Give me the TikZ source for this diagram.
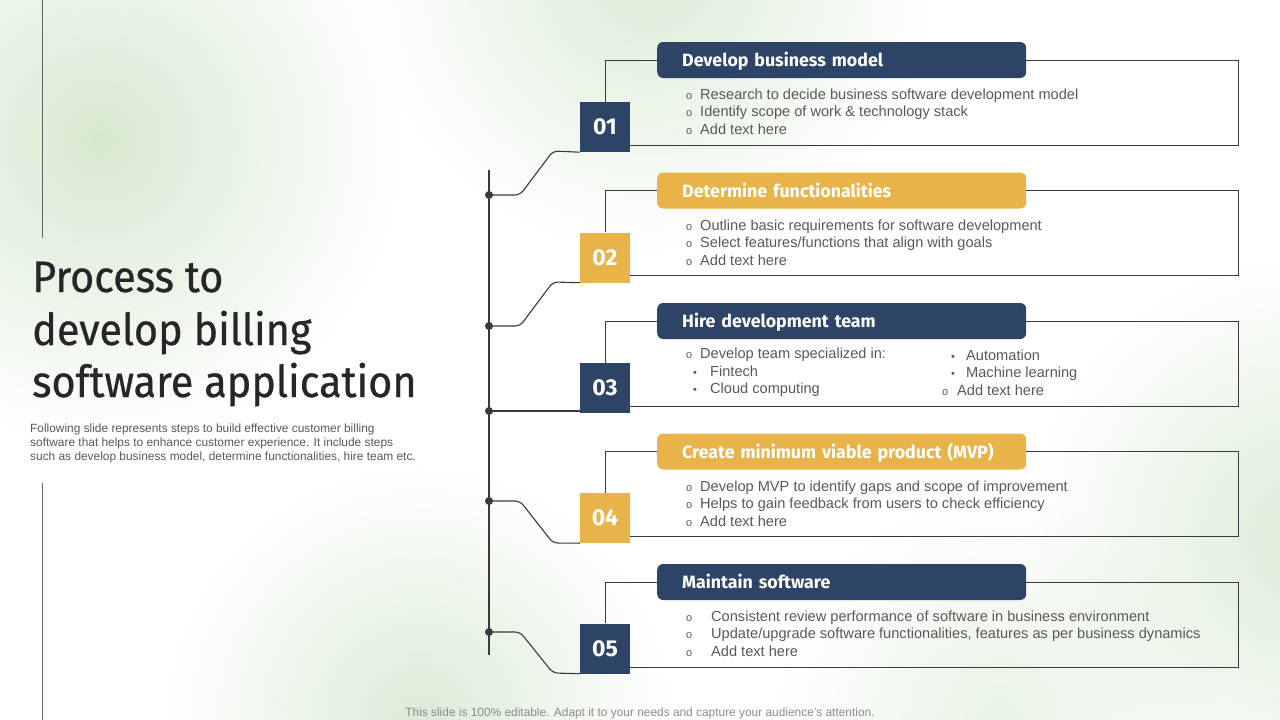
\documentclass[tikz,border=0pt]{standalone}
\usepackage{fontspec}
\setmainfont{Liberation Sans}
\newfontfamily\titlefont[FakeStretch=0.94,FakeBold=0.6]{Fira Sans}
\newfontfamily\headfont{Fira Sans}
\usetikzlibrary{fadings}
\definecolor{navy}{HTML}{2E4466}
\definecolor{gold}{HTML}{E8B44A}
\definecolor{txt}{HTML}{595959}
\definecolor{lineC}{HTML}{3A3A3A}
\definecolor{glow}{HTML}{D3E7CC}
\tikzfading[name=softglow, inner color=transparent!0, outer color=transparent!100]
\newcommand\obul[1][14pt]{\makebox[#1][l]{\fontsize{11}{11}\selectfont o}}
\newcommand\dbul[1][15pt]{\makebox[#1][l]{\fontsize{11}{11}\selectfont\textbullet}}
\begin{document}
\begin{tikzpicture}[x=1pt,y=-1pt,
  hdr/.style={anchor=west, rounded corners=6pt, minimum width=369pt, minimum height=36pt,
    inner xsep=25pt, text width=319pt, align=left, text=white, text height=13pt, text depth=0pt,
    font=\headfont\bfseries\fontsize{17.8}{19}\selectfont},
  numbox/.style={minimum width=50pt, minimum height=50pt, inner sep=0pt, text=white,
    font=\headfont\bfseries\fontsize{23}{24}\selectfont},
  frame/.style={draw=lineC, line width=1pt},
  conn/.style={draw=lineC, line width=1.1pt, rounded corners=5pt},
  dot/.style={circle, fill=lineC, minimum size=8pt, inner sep=0pt},
  body/.style={anchor=west, align=left, inner sep=0pt, text=txt,
    font=\fontsize{14.6}{17.5}\selectfont},
  ttl/.style={anchor=base west, inner sep=0pt, text=black!85,
    font=\titlefont\fontsize{44}{52}\selectfont},
  desc/.style={anchor=base west, inner sep=0pt, text=txt,
    font=\fontsize{11.9}{14}\selectfont},
]
\useasboundingbox (0,0) rectangle (1280,720);
\begin{scope}
\clip (0,0) rectangle (1280,720);
\fill[white] (0,0) rectangle (1280,720);
\fill[glow, fill opacity=0.9, path fading=softglow] (100,140) circle (300pt);
\fill[glow, fill opacity=0.8, path fading=softglow] (650,-30) circle (280pt);
\fill[glow, fill opacity=0.8, path fading=softglow] (420,720) circle (250pt);
\fill[glow, fill opacity=0.8, path fading=softglow] (1310,540) circle (280pt);
\fill[glow, fill opacity=0.5, path fading=softglow] (1000,720) circle (220pt);
\end{scope}

% left decorative line
\coordinate (la) at (42,0); \coordinate (lb) at (42,238);
\coordinate (lc) at (42,483); \coordinate (ld) at (42,720);
\draw[draw=black!60, line width=0.8pt] (la) -- (lb);
\draw[draw=black!60, line width=0.8pt] (lc) -- (ld);

% title
\node[ttl] (tl1) at (32,292) {Process to};
\node[ttl] (tl2) at (32,345) {develop billing};
\node[ttl] (tl3) at (32,397) {software application};
\node[desc] (ds1) at (30,432) {Following slide represents steps to build effective customer billing};
\node[desc] (ds2) at (30,446) {software that helps to enhance customer experience. It include steps};
\node[desc] (ds3) at (30,460) {such as develop business model, determine functionalities, hire team etc.};

% timeline
\coordinate (tla) at (489,170); \coordinate (tlb) at (489,655);
\draw[draw=lineC, line width=1.1pt] (tla) -- (tlb);

% ---- step 1
\node[hdr, fill=navy] (h1) at (657,60) {Develop business model};
\node[numbox, fill=navy] (n1) at (605,127) {01};
\coordinate (r1) at (1238,145);
\draw[frame] (h1.west) -| (n1.north);
\draw[frame] (h1.east) -| (r1) -- (n1.east |- r1);
\node[body] (t1) at (686,111.5) {\obul Research to decide business software development model\\
\obul Identify  scope of work \& technology stack\\ \obul Add text here};
\node[dot] (d1) at (489,195) {};
\draw[conn] (d1.center) -- (520,195) -- (553,151) -- (n1.south west);

% ---- step 2
\node[hdr, fill=gold] (h2) at (657,190.5) {Determine functionalities};
\node[numbox, fill=gold] (n2) at (605,257.5) {02};
\coordinate (r2) at (1238,275.5);
\draw[frame] (h2.west) -| (n2.north);
\draw[frame] (h2.east) -| (r2) -- (n2.east |- r2);
\node[body] (t2) at (686,242.5) {\obul Outline basic requirements for software development\\
\obul Select features/functions that align with goals\\ \obul Add text here};
\node[dot] (d2) at (489,326) {};
\draw[conn] (d2.center) -- (520,326) -- (553,282) -- (n2.south west);

% ---- step 3
\node[hdr, fill=navy] (h3) at (657,321) {Hire development team};
\node[numbox, fill=navy] (n3) at (605,388) {03};
\coordinate (r3) at (1238,406);
\draw[frame] (h3.west) -| (n3.north);
\draw[frame] (h3.east) -| (r3) -- (n3.east |- r3);
\node[body] (t3a) at (686,372.5) {\obul Develop team specialized in:\\
\hspace{7pt}\dbul[17pt]Fintech\\ \hspace{7pt}\dbul[17pt]Cloud computing};
\node[body] (t3b) at (942,372.5) {\hspace{9pt}\dbul Automation\\
\hspace{9pt}\dbul Machine learning\\ \obul[15pt]Add text here};
\node[dot] (d3) at (489,411) {};
\draw[conn] (d3.center) -- (d3 -| n3.west);

% ---- step 4
\node[hdr, fill=gold] (h4) at (657,451.5) {Create minimum viable product (MVP)};
\node[numbox, fill=gold] (n4) at (605,518) {04};
\coordinate (r4) at (1238,536.5);
\draw[frame] (h4.west) -| (n4.north);
\draw[frame] (h4.east) -| (r4) -- (n4.east |- r4);
\node[body] (t4) at (686,503.5) {\obul Develop MVP to identify gaps and scope of improvement\\
\obul Helps to gain feedback from users to check efficiency\\ \obul Add text here};
\node[dot] (d4) at (489,501) {};
\draw[conn] (d4.center) -- (520,501) -- (553,543) -- (n4.south west);

% ---- step 5
\node[hdr, fill=navy] (h5) at (657,582) {Maintain software};
\node[numbox, fill=navy] (n5) at (605,648.5) {05};
\coordinate (r5) at (1238,667);
\draw[frame] (h5.west) -| (n5.north);
\draw[frame] (h5.east) -| (r5) -- (n5.east |- r5);
\node[body] (t5) at (686,633.5) {\obul[25pt]Consistent review performance of software in business environment\\
\obul[25pt]Update/upgrade  software functionalities, features as per business dynamics\\ \obul[25pt]Add text here};
\node[dot] (d5) at (489,632) {};
\draw[conn] (d5.center) -- (520,632) -- (553,673) -- (n5.south west);

% footer
\node[anchor=base, inner sep=0pt, text=black!45, font=\fontsize{11.9}{12}\selectfont] (ft) at (640,716)
  {This slide is 100\% editable. Adapt it to your needs and capture your audience’s attention.};
\end{tikzpicture}
\end{document}
